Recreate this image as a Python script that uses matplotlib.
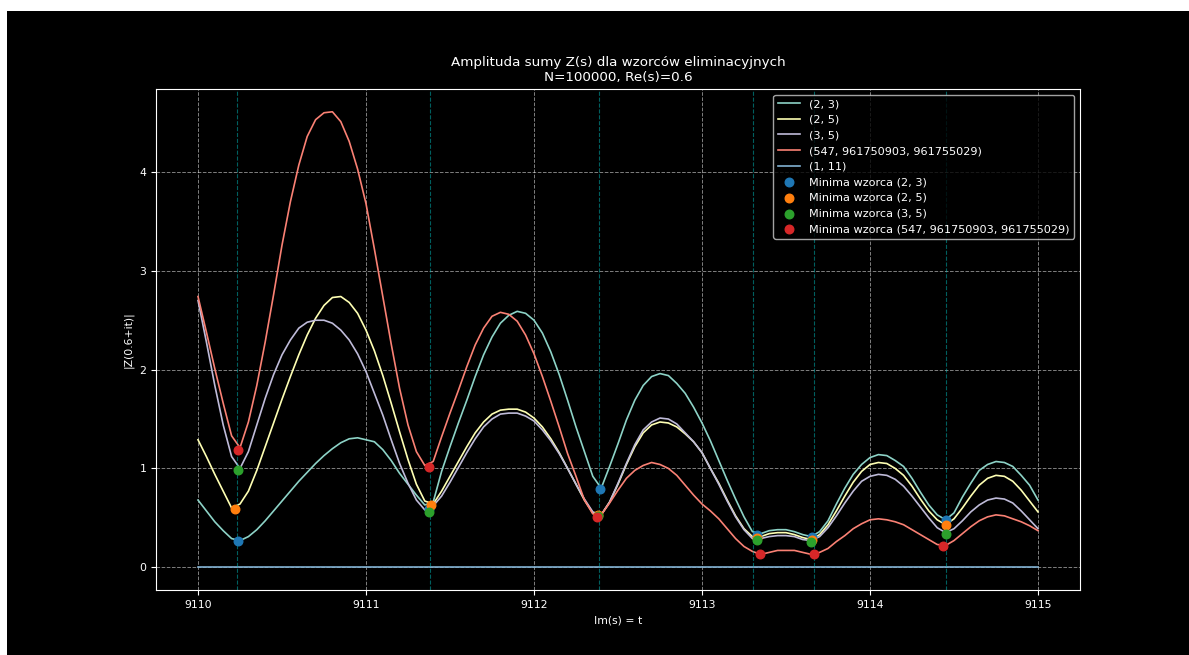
import numpy as np
import matplotlib
matplotlib.use("Agg")
import matplotlib.pyplot as plt
from matplotlib.patches import Rectangle

# probki Im(s)=t co 0.05
t = np.linspace(9110, 9115, 101)

amp_2_3 = [0.68, 0.57, 0.46, 0.37, 0.29, 0.27, 0.31, 0.38, 0.47, 0.57,
           0.67, 0.77, 0.87, 0.96, 1.05, 1.13, 1.20, 1.26, 1.30, 1.31,
           1.29, 1.27, 1.19, 1.08, 0.95, 0.84, 0.73, 0.63, 0.66, 0.97,
           1.22, 1.46, 1.69, 1.93, 2.15, 2.33, 2.47, 2.55, 2.59, 2.57,
           2.50, 2.37, 2.18, 1.95, 1.69, 1.42, 1.17, 0.92, 0.80, 1.02,
           1.25, 1.49, 1.69, 1.84, 1.93, 1.96, 1.94, 1.86, 1.76, 1.62,
           1.46, 1.28, 1.08, 0.88, 0.69, 0.51, 0.36, 0.34, 0.37, 0.38,
           0.38, 0.36, 0.33, 0.31, 0.36, 0.47, 0.64, 0.80, 0.94, 1.04,
           1.11, 1.14, 1.13, 1.08, 1.02, 0.90, 0.76, 0.63, 0.53, 0.48,
           0.55, 0.71, 0.85, 0.98, 1.04, 1.07, 1.06, 1.02, 0.93, 0.83,
           0.68]

amp_2_5 = [1.29, 1.12, 0.94, 0.77, 0.60, 0.64, 0.77, 0.98, 1.22, 1.46,
           1.70, 1.93, 2.15, 2.35, 2.52, 2.65, 2.73, 2.74, 2.68, 2.57,
           2.40, 2.19, 1.94, 1.66, 1.37, 1.09, 0.84, 0.67, 0.64, 0.77,
           0.92, 1.07, 1.22, 1.36, 1.47, 1.55, 1.59, 1.60, 1.60, 1.57,
           1.51, 1.42, 1.30, 1.16, 1.00, 0.84, 0.68, 0.55, 0.53, 0.66,
           0.84, 1.04, 1.22, 1.36, 1.44, 1.47, 1.46, 1.42, 1.35, 1.27,
           1.16, 1.00, 0.85, 0.68, 0.52, 0.39, 0.31, 0.31, 0.34, 0.35,
           0.35, 0.33, 0.30, 0.28, 0.33, 0.43, 0.57, 0.72, 0.86, 0.97,
           1.04, 1.06, 1.05, 1.00, 0.93, 0.82, 0.69, 0.57, 0.48, 0.43,
           0.49, 0.60, 0.72, 0.83, 0.90, 0.93, 0.92, 0.87, 0.78, 0.67,
           0.56]

amp_3_5 = [2.70, 2.28, 1.84, 1.44, 1.12, 1.00, 1.17, 1.44, 1.71, 1.95,
           2.15, 2.30, 2.42, 2.48, 2.50, 2.50, 2.47, 2.40, 2.30, 2.16,
           1.98, 1.76, 1.54, 1.29, 1.05, 0.85, 0.68, 0.58, 0.62, 0.72,
           0.86, 1.01, 1.16, 1.30, 1.42, 1.50, 1.55, 1.56, 1.56, 1.53,
           1.48, 1.39, 1.28, 1.15, 1.00, 0.84, 0.69, 0.56, 0.53, 0.66,
           0.85, 1.05, 1.24, 1.39, 1.47, 1.51, 1.50, 1.45, 1.36, 1.27,
           1.16, 1.00, 0.84, 0.67, 0.51, 0.38, 0.29, 0.29, 0.31, 0.32,
           0.32, 0.31, 0.28, 0.27, 0.31, 0.40, 0.52, 0.65, 0.77, 0.87,
           0.92, 0.94, 0.93, 0.89, 0.82, 0.72, 0.61, 0.50, 0.40, 0.35,
           0.39, 0.47, 0.56, 0.63, 0.68, 0.70, 0.69, 0.65, 0.57, 0.48,
           0.39]

amp_547 = [2.74, 2.38, 2.01, 1.66, 1.33, 1.21, 1.47, 1.84, 2.28, 2.76,
           3.26, 3.70, 4.07, 4.36, 4.53, 4.60, 4.61, 4.51, 4.31, 4.03,
           3.68, 3.22, 2.74, 2.26, 1.81, 1.44, 1.17, 1.03, 1.07, 1.32,
           1.56, 1.79, 2.03, 2.25, 2.42, 2.54, 2.58, 2.56, 2.49, 2.35,
           2.16, 1.93, 1.68, 1.42, 1.15, 0.92, 0.68, 0.54, 0.53, 0.65,
           0.78, 0.90, 0.98, 1.03, 1.06, 1.04, 1.00, 0.93, 0.83, 0.73,
           0.64, 0.57, 0.49, 0.39, 0.29, 0.21, 0.16, 0.13, 0.15, 0.17,
           0.17, 0.17, 0.15, 0.13, 0.15, 0.19, 0.26, 0.32, 0.39, 0.44,
           0.48, 0.49, 0.48, 0.46, 0.43, 0.38, 0.33, 0.28, 0.23, 0.22,
           0.27, 0.34, 0.41, 0.47, 0.51, 0.53, 0.52, 0.49, 0.46, 0.42,
           0.37]

amp_1_11 = np.zeros(len(t))

series_names = ["(2, 3)", "(2, 5)", "(3, 5)", "(547, 961750903, 961755029)", "(1, 11)"]

# minima
min_2_3_t = [9110.236, 9111.375, 9112.395, 9113.329, 9113.652, 9114.452]
min_2_3_v = [0.263, 0.59, 0.79, 0.33, 0.31, 0.48]
min_2_5_t = [9110.218, 9111.388, 9112.380, 9113.330, 9113.655, 9114.452]
min_2_5_v = [0.59, 0.63, 0.53, 0.30, 0.28, 0.43]
min_3_5_t = [9110.236, 9111.374, 9112.380, 9113.329, 9113.650, 9114.452]
min_3_5_v = [0.98, 0.56, 0.52, 0.28, 0.26, 0.34]
min_547_t = [9110.236, 9111.374, 9112.377, 9113.345, 9113.667, 9114.433]
min_547_v = [1.19, 1.01, 0.51, 0.13, 0.13, 0.21]

vlines_t = [9110.234, 9111.378, 9112.387, 9113.306, 9113.665, 9114.450]

plt.style.use('dark_background')
plt.rcParams['font.size'] = 7.8

fig = plt.figure(figsize=(11.89, 6.55), dpi=100, facecolor='white')
fig.add_artist(Rectangle((7/1189, 0), 1 - 7/1189, 1 - 11/655, transform=fig.transFigure,
                         facecolor='black', edgecolor='none', zorder=-10))
ax = fig.add_axes([156/1189, 1 - 590/655, (1080 - 156)/1189, (590 - 89)/655])

lw = 1.2
for y, name in zip([amp_2_3, amp_2_5, amp_3_5, amp_547, amp_1_11], series_names):
    ax.plot(t, y, label=name, lw=lw)

for xv in vlines_t:
    ax.axvline(xv, color='c', linestyle='--', alpha=0.5, lw=0.8)

ax.scatter(min_2_3_t, min_2_3_v, color='tab:blue', s=38, zorder=5, label='Minima wzorca (2, 3)')
ax.scatter(min_2_5_t, min_2_5_v, color='tab:orange', s=38, zorder=5, label='Minima wzorca (2, 5)')
ax.scatter(min_3_5_t, min_3_5_v, color='tab:green', s=38, zorder=5, label='Minima wzorca (3, 5)')
ax.scatter(min_547_t, min_547_v, color='tab:red', s=38, zorder=5,
           label='Minima wzorca (547, 961750903, 961755029)')

ax.set_title('Amplituda sumy Z(s) dla wzorców eliminacyjnych\nN=100000, Re(s)=0.6', fontsize=9.7)
ax.set_xlabel('Im(s) = t')
ax.set_ylabel('|Z(0.6+it)|')
ax.grid(True, linestyle='--', alpha=0.5, lw=0.7)
ax.ticklabel_format(useOffset=False)
ax.legend(loc='upper right', fontsize=8.1)

fig.savefig('out.png', dpi=100, facecolor=fig.get_facecolor())
